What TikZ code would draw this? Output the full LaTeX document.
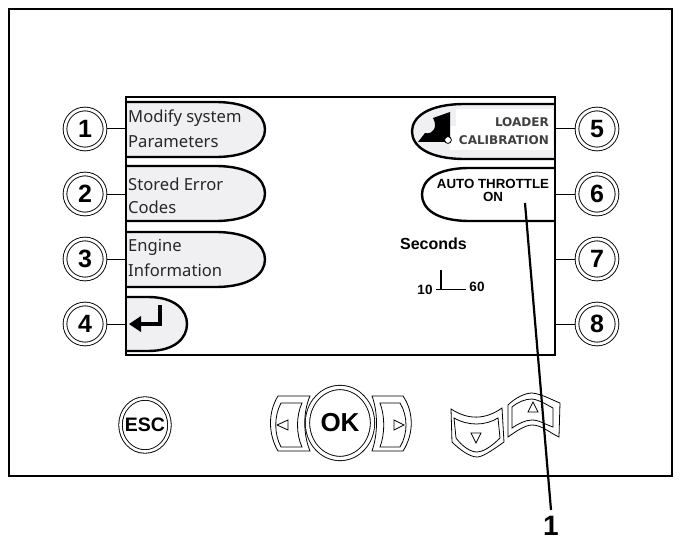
\documentclass[tikz,border=0pt]{standalone}
\usepackage{fontspec}
\usetikzlibrary{shapes.geometric}
\setmainfont{Liberation Sans}
\newfontfamily\uifont{Noto Sans}
\newfontfamily\uibold{DejaVu Sans Bold}
\newcommand{\fs}[1]{\fontsize{#1}{#1}\selectfont}
\definecolor{softgrey}{HTML}{F0F0F3}
\tikzset{
  frameline/.style={draw=black,line width=2.2pt,inner sep=0pt,outer sep=0pt},
  keynum/.style={circle,draw=black,line width=0.9pt,double=white,double distance=2.8pt,
     minimum size=40pt,inner sep=0pt,outer sep=1.8pt,font=\bfseries\fs{25},text=black},
  wire/.style={draw=black,line width=1pt},
  softkey/.style={draw=black,line width=2.4pt,fill=softgrey},
  softtext/.style={anchor=west,inner sep=0pt,font=\uifont\fs{16.6},text=black!85},
  hardkey/.style={draw=black,line width=0.8pt,fill=white},
  boldtext/.style={inner sep=0pt,font=\bfseries\fs{#1},text=black},
  boldtext/.default=12
}
\begin{document}
\begin{tikzpicture}[x=1pt,y=-1pt]
\useasboundingbox (0,0) rectangle (689,543);
\node[frameline,minimum width=663pt,minimum height=467pt] (frame) at (340.5,242.5) {};
% soft keys
\path[softkey] (126,102) -- (215,102) .. controls (250,102) and (265,115) .. (265,129.5) .. controls (265,144) and (250,157) .. (215,157) -- (126,157);
\path[softkey] (126,166) -- (215,166) .. controls (250,166) and (265,179) .. (265,193.5) .. controls (265,208) and (250,221) .. (215,221) -- (126,221);
\path[softkey] (126,232) -- (215,232) .. controls (250,232) and (265,245) .. (265,259.5) .. controls (265,274) and (250,287) .. (215,287) -- (126,287);
\path[softkey] (126,297) -- (148,297) .. controls (175,297) and (187,310) .. (187,324) .. controls (187,338) and (175,351) .. (148,351) -- (126,351);
\draw[line width=3.4pt] (160,305) -- (160,324) -- (136,324);
\fill (129,324) -- (141,316) -- (141,332) -- cycle;
\path[softkey] (555,104) -- (465,104) .. controls (428,104) and (412,117) .. (412,131.5) .. controls (412,146) and (428,159) .. (465,159) -- (555,159);
\fill[white] (456,109) rectangle (553,126);
\fill[white] (450,126) rectangle (553,150);
\fill[black] (450,112) -- (450,142) -- (418,142) -- (425,133) .. controls (433,135) and (438,127) .. (433,118) -- cycle;
\draw[black,fill=white,line width=0.8pt] (448,140) circle (3.4);
\path[softkey,fill=white] (555,168) -- (470,168) .. controls (435,168) and (422,181) .. (422,194.5) .. controls (422,208) and (435,221) .. (470,221) -- (555,221);
% screen
\node[frameline,minimum width=429pt,minimum height=258pt] (screen) at (340.5,226) {};
% soft key text
\node[softtext] (t1a) at (128,118) {Modify system};
\node[softtext] (t1b) at (128,142) {Parameters};
\node[softtext] (t2a) at (128,184) {Stored Error};
\node[softtext] (t2b) at (128,207) {Codes};
\node[softtext] (t3a) at (128,247) {Engine};
\node[softtext] (t3b) at (128,270) {Information};
\node[inner sep=0pt,anchor=east,font=\uibold\fs{12},text=black!75] (t5a) at (549,122) {LOADER};
\node[inner sep=0pt,anchor=east,font=\uibold\fs{12},text=black!75] (t5b) at (549,140) {CALIBRATION};
\node[boldtext=13.3] (t6a) at (493,183.5) {AUTO THROTTLE};
\node[boldtext=13.3] (t6b) at (493,197) {ON};
\node[boldtext=16] (sec) at (433.5,244) {Seconds};
\node[boldtext=13.5] (s10) at (425,290) {10};
\node[boldtext=13.5] (s60) at (477,287) {60};
\draw[line width=1pt] (436,289) -- (466,289);
\draw[line width=2.2pt] (441,270) -- (441,289);
% numbered keys
\foreach \n/\y in {1/129,2/194,3/259,4/324}{
  \node[keynum] (k\n) at (85,\y) {\n};
  \draw[wire] (k\n) -- (k\n -| screen.west);
}
\foreach \n/\y in {5/129,6/194,7/259,8/324}{
  \node[keynum] (k\n) at (597,\y) {\n};
  \draw[wire] (k\n) -- (k\n -| screen.east);
}
% hard keys
\node[ellipse,draw=black,line width=0.9pt,double=white,double distance=2.6pt,minimum width=49pt,minimum height=53pt,inner sep=0pt,label={[inner sep=0pt,font=\bfseries\fs{19.5}]center:ESC}] (esc) at (145,425) {};
% left
\path[hardkey] (278,396) -- (310,396) .. controls (303,412) and (303,434) .. (310,451) -- (278,451) .. controls (268,434) and (268,412) .. (278,396) -- cycle;
\path[hardkey] (281,403) -- (302,403) .. controls (296,416) and (296,434) .. (302,447) -- (281,447) .. controls (274,434) and (274,416) .. (281,403) -- cycle;
\draw[line width=0.8pt,fill=white] (277,425) -- (288,420) -- (288,430) -- cycle;
% right
\path[hardkey] (403,396) -- (372,396) .. controls (378,412) and (378,434) .. (372,451) -- (403,451) .. controls (414,434) and (414,412) .. (403,396) -- cycle;
\path[hardkey] (400,403) -- (380,403) .. controls (385,416) and (385,434) .. (380,447) -- (400,447) .. controls (408,434) and (408,416) .. (400,403) -- cycle;
\draw[line width=0.8pt,fill=white] (404,425) -- (394,420) -- (394,430) -- cycle;
% OK
\node[ellipse,draw=black,line width=0.9pt,double=white,double distance=3.4pt,minimum width=65pt,minimum height=71pt,inner sep=0pt,label={[inner sep=0pt,font=\bfseries\fs{26}]center:OK}] (ok) at (340,423) {};
% down
\path[hardkey] (451,409) .. controls (468,420) and (485,420) .. (502,408) -- (504,442) .. controls (490,452) and (482,457) .. (477,457) .. controls (470,457) and (460,450) .. (452,442) -- cycle;
\path[hardkey] (454,418) .. controls (468,426) and (485,426) .. (498,418) -- (500,438) .. controls (490,448) and (482,452) .. (477,452) .. controls (470,452) and (462,446) .. (456,438) -- cycle;
\draw[line width=0.8pt,fill=white] (471,433) -- (481,433) -- (476,443) -- cycle;
% up
\path[hardkey] (508,405) .. controls (515,398) and (525,393) .. (532,393) .. controls (542,394) and (552,400) .. (560,403) -- (559,437) .. controls (550,433) and (542,425) .. (532,425) .. controls (525,425) and (515,432) .. (508,437) -- cycle;
\path[hardkey] (512,407) .. controls (518,402) and (525,399) .. (532,399) .. controls (540,400) and (547,405) .. (553,408) -- (553,427) .. controls (546,425) and (540,420) .. (532,420) .. controls (525,420) and (518,424) .. (512,428) -- cycle;
\draw[line width=0.8pt,fill=white] (533,402) -- (528,412) -- (538,412) -- cycle;
% callout
\coordinate (callstart) at (525,203);
\node[boldtext=28,anchor=north] (lab) at (551,516) {1};
\coordinate (callend) at (551,510);
\draw[line width=2.2pt] (callstart) -- (callend);
\end{tikzpicture}
\end{document}
